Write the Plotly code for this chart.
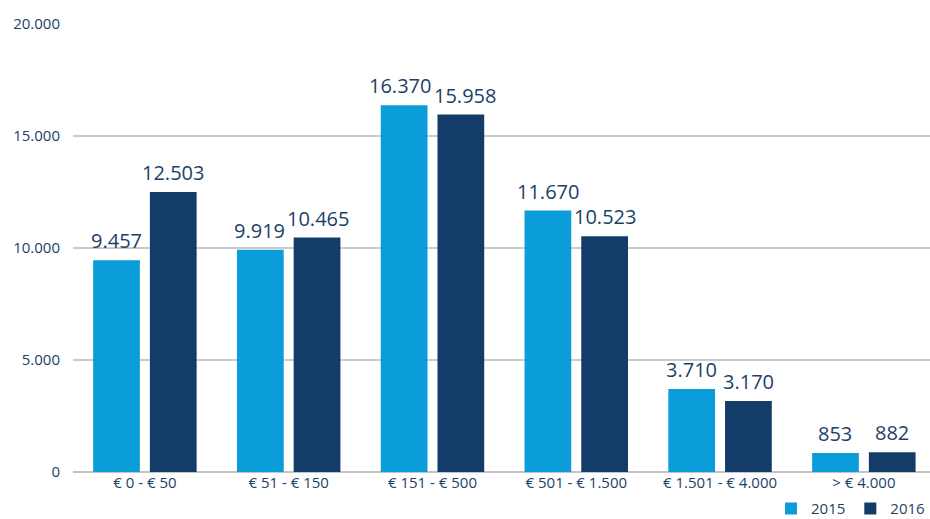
import plotly.graph_objects as go

categories = ["€ 0 - € 50", "€ 51 - € 150", "€ 151 - € 500",
              "€ 501 - € 1.500", "€ 1.501 - € 4.000", "> € 4.000"]
values_2015 = [9457, 9919, 16370, 11670, 3710, 853]
values_2016 = [12503, 10465, 15958, 10523, 3170, 882]
y_ticks = [0, 5000, 10000, 15000, 20000]
y_tick_labels = ["0", "5.000", "10.000", "15.000", "20.000"]

LIGHT = "#0b9dd9"
DARK = "#143c69"
TEXT = "#1d3f68"
FONT = "Open Sans"

W, H = 930, 519
M_L, M_R, M_T, M_B = 73, 0, 24, 47
X_RANGE = [-0.5, 5.46]
BARGAP, GROUPGAP = 0.211, 0.176
LABEL_SIZE = 20


def fmt(v):
    return f"{v:,}".replace(",", ".")


def text_width(s, size):
    # rough advance widths for Open Sans digits and the thousands dot
    return sum(0.572 if ch.isdigit() else 0.27 for ch in s) * size


fig = go.Figure()
series = [("2015", values_2015, LIGHT), ("2016", values_2016, DARK)]
for name, vals, col in series:
    fig.add_trace(go.Bar(
        x=categories, y=vals, name=name,
        marker=dict(color=col, line=dict(width=0)),
        hoverinfo="skip",
    ))

# value labels above each bar, centred on the bar's slot within its group;
# when both labels of a group sit at nearly the same height and are wider
# than the slot spacing, they are spread sideways so they just clear
cat_px = (W - M_L - M_R) / (X_RANGE[1] - X_RANGE[0])
plot_h = H - M_T - M_B
slot_px = cat_px * (1 - BARGAP) / len(series)
for j, c in enumerate(categories):
    a, b = values_2015[j], values_2016[j]
    dy_px = abs(a - b) / 20000 * plot_h
    need = (text_width(fmt(a), LABEL_SIZE) + text_width(fmt(b), LABEL_SIZE)) / 2
    spread = 0.0
    if dy_px < LABEL_SIZE and need > slot_px:
        spread = (need - slot_px) / 2 + 1
    for i, (name, vals, col) in enumerate(series):
        side = i - (len(series) - 1) / 2
        shift = side * slot_px + (spread if side > 0 else -spread)
        fig.add_annotation(
            x=c, y=vals[j], xref="x", yref="y", text=fmt(vals[j]),
            showarrow=False, xanchor="center", yanchor="bottom",
            xshift=shift, yshift=4,
            font=dict(family=FONT, size=LABEL_SIZE, color=TEXT),
        )

fig.update_layout(
    width=W, height=H,
    margin=dict(l=M_L, r=M_R, t=M_T, b=M_B, autoexpand=False),
    paper_bgcolor="white", plot_bgcolor="white",
    barmode="group", bargap=BARGAP, bargroupgap=GROUPGAP,
    font=dict(family=FONT, color=TEXT),
    showlegend=True,
    legend=dict(
        orientation="h", x=1.0, xanchor="right", y=-0.082, yanchor="middle",
        font=dict(family=FONT, size=15, color=TEXT),
        itemwidth=30, tracegroupgap=0, bgcolor="rgba(0,0,0,0)",
    ),
    xaxis=dict(
        range=X_RANGE, showgrid=False, zeroline=False,
        showline=False, ticks="",
        tickfont=dict(family=FONT, size=15, color=TEXT),
    ),
    yaxis=dict(
        range=[0, 20000], tickvals=y_ticks, ticktext=y_tick_labels,
        showgrid=True, gridcolor="#cbcbcb", gridwidth=1.5,
        zeroline=True, zerolinecolor="#c4c4c4", zerolinewidth=1.5,
        showline=False, ticks="", ticklabelstandoff=12,
        tickfont=dict(family=FONT, size=15, color=TEXT),
    ),
)

fig.write_html("out.html")
